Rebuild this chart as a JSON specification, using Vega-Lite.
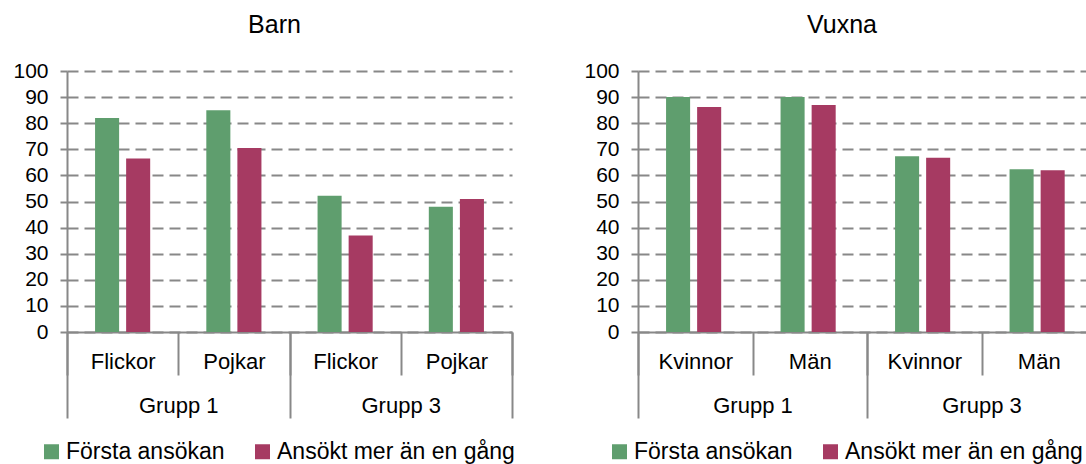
{
  "$schema": "https://vega.github.io/schema/vega-lite/v6.json",
  "background": "white",
  "padding": {"left": 12, "top": 13, "right": 0, "bottom": 0},
  "config": {
    "font": "Liberation Sans",
    "view": {"stroke": null},
    "axis": {"labelColor": "#000000", "labelFont": "Liberation Sans", "domainColor": "#888888", "tickColor": "#888888", "domainWidth": 2, "tickWidth": 2, "gridColor": "#888888", "gridWidth": 2, "gridDash": [11, 6], "title": null},
    "legend": {"labelFont": "Liberation Sans", "labelFontSize": 23, "labelColor": "#000000", "labelLimit": 0, "padding": 0, "symbolType": "square", "symbolSize": 225, "symbolStrokeWidth": 0, "labelOffset": 3, "columnPadding": 26, "direction": "horizontal", "orient": "none", "title": null},
    "title": {"font": "Liberation Sans", "fontSize": 25, "fontWeight": "normal", "color": "#000000", "anchor": "middle", "frame": "group", "offset": 22}
  },
  "data": {"values": [
    {"panel": "Barn", "grupp": "Grupp 1", "xkey": "Grupp 1|Flickor", "serie": "Första ansökan", "value": 82},
    {"panel": "Barn", "grupp": "Grupp 1", "xkey": "Grupp 1|Flickor", "serie": "Ansökt mer än en gång", "value": 66.5},
    {"panel": "Barn", "grupp": "Grupp 1", "xkey": "Grupp 1|Pojkar", "serie": "Första ansökan", "value": 85},
    {"panel": "Barn", "grupp": "Grupp 1", "xkey": "Grupp 1|Pojkar", "serie": "Ansökt mer än en gång", "value": 70.5},
    {"panel": "Barn", "grupp": "Grupp 3", "xkey": "Grupp 3|Flickor", "serie": "Första ansökan", "value": 52.2},
    {"panel": "Barn", "grupp": "Grupp 3", "xkey": "Grupp 3|Flickor", "serie": "Ansökt mer än en gång", "value": 37},
    {"panel": "Barn", "grupp": "Grupp 3", "xkey": "Grupp 3|Pojkar", "serie": "Första ansökan", "value": 48},
    {"panel": "Barn", "grupp": "Grupp 3", "xkey": "Grupp 3|Pojkar", "serie": "Ansökt mer än en gång", "value": 51},
    {"panel": "Vuxna", "grupp": "Grupp 1", "xkey": "Grupp 1|Kvinnor", "serie": "Första ansökan", "value": 90},
    {"panel": "Vuxna", "grupp": "Grupp 1", "xkey": "Grupp 1|Kvinnor", "serie": "Ansökt mer än en gång", "value": 86.2},
    {"panel": "Vuxna", "grupp": "Grupp 1", "xkey": "Grupp 1|Män", "serie": "Första ansökan", "value": 90},
    {"panel": "Vuxna", "grupp": "Grupp 1", "xkey": "Grupp 1|Män", "serie": "Ansökt mer än en gång", "value": 87},
    {"panel": "Vuxna", "grupp": "Grupp 3", "xkey": "Grupp 3|Kvinnor", "serie": "Första ansökan", "value": 67.3},
    {"panel": "Vuxna", "grupp": "Grupp 3", "xkey": "Grupp 3|Kvinnor", "serie": "Ansökt mer än en gång", "value": 66.8},
    {"panel": "Vuxna", "grupp": "Grupp 3", "xkey": "Grupp 3|Män", "serie": "Första ansökan", "value": 62.4},
    {"panel": "Vuxna", "grupp": "Grupp 3", "xkey": "Grupp 3|Män", "serie": "Ansökt mer än en gång", "value": 62}
  ]},
  "bounds": "flush",
  "spacing": 126,
  "resolve": {"scale": {"color": "independent"}, "legend": {"color": "independent"}},
  "hconcat": [
    {
      "width": 445,
      "height": 261,
      "title": {"text": "Barn", "dx": -15},
      "transform": [{"filter": "datum.panel === 'Barn'"}],
      "resolve": {"scale": {"x": "independent"}, "axis": {"x": "independent"}},
      "layer": [
        {
          "mark": {"type": "bar"},
          "encoding": {
            "x": {"field": "xkey", "type": "nominal", "sort": null, "scale": {"paddingInner": 0, "paddingOuter": 0},
                  "axis": {"orient": "bottom", "labelExpr": "split(datum.label, '|')[1]", "labelAngle": 0, "labelFontSize": 22, "tickBand": "extent", "tickSize": 43, "labelPadding": -24, "grid": false}},
            "xOffset": {"field": "serie", "type": "nominal", "sort": ["Första ansökan", "Ansökt mer än en gång"], "scale": {"paddingInner": 0.226, "paddingOuter": 0.903}},
            "y": {"field": "value", "type": "quantitative", "scale": {"domain": [0, 100], "nice": false},
                  "axis": {"values": [0, 10, 20, 30, 40, 50, 60, 70, 80, 90, 100], "grid": true, "tickSize": 7, "labelPadding": 12, "labelFontSize": 21}},
            "color": {"field": "serie", "type": "nominal", "sort": ["Första ansökan", "Ansökt mer än en gång"],
                      "scale": {"domain": ["Första ansökan", "Ansökt mer än en gång"], "range": ["#5f9e6e", "#a63a62"]},
                      "legend": {"legendX": -27, "legendY": 369}}
          }
        },
        {
          "mark": {"type": "bar", "opacity": 0},
          "encoding": {
            "x": {"field": "grupp", "type": "nominal", "sort": null, "scale": {"paddingInner": 0, "paddingOuter": 0},
                  "axis": {"orient": "bottom", "domain": false, "labelAngle": 0, "labelFontSize": 22, "tickBand": "extent", "tickSize": 86, "labelPadding": -23, "grid": false}}
          }
        }
      ]
    },
    {
      "width": 458,
      "height": 261,
      "title": {"text": "Vuxna", "dx": -25},
      "transform": [{"filter": "datum.panel === 'Vuxna'"}],
      "resolve": {"scale": {"x": "independent"}, "axis": {"x": "independent"}},
      "layer": [
        {
          "mark": {"type": "bar"},
          "encoding": {
            "x": {"field": "xkey", "type": "nominal", "sort": null, "scale": {"paddingInner": 0, "paddingOuter": 0},
                  "axis": {"orient": "bottom", "labelExpr": "split(datum.label, '|')[1]", "labelAngle": 0, "labelFontSize": 22, "tickBand": "extent", "tickSize": 43, "labelPadding": -24, "grid": false}},
            "xOffset": {"field": "serie", "type": "nominal", "sort": ["Första ansökan", "Ansökt mer än en gång"], "scale": {"paddingInner": 0.212, "paddingOuter": 0.866}},
            "y": {"field": "value", "type": "quantitative", "scale": {"domain": [0, 100], "nice": false},
                  "axis": {"values": [0, 10, 20, 30, 40, 50, 60, 70, 80, 90, 100], "grid": true, "tickSize": 7, "labelPadding": 12, "labelFontSize": 21}},
            "color": {"field": "serie", "type": "nominal", "sort": ["Första ansökan", "Ansökt mer än en gång"],
                      "scale": {"domain": ["Första ansökan", "Ansökt mer än en gång"], "range": ["#5f9e6e", "#a63a62"]},
                      "legend": {"legendX": -30, "legendY": 369}}
          }
        },
        {
          "mark": {"type": "bar", "opacity": 0},
          "encoding": {
            "x": {"field": "grupp", "type": "nominal", "sort": null, "scale": {"paddingInner": 0, "paddingOuter": 0},
                  "axis": {"orient": "bottom", "domain": false, "labelAngle": 0, "labelFontSize": 22, "tickBand": "extent", "tickSize": 86, "labelPadding": -23, "grid": false}}
          }
        }
      ]
    }
  ]
}
